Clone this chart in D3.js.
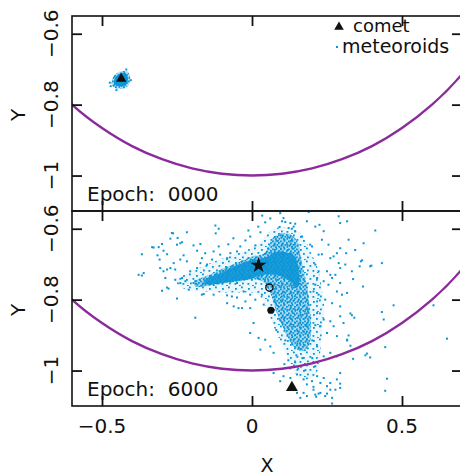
<!DOCTYPE html>
<html>
<head>
<meta charset="utf-8">
<script src="https://cdn.jsdelivr.net/npm/d3@7"></script>
<style>
body{margin:0;background:#fff;}
text{font-family:"DejaVu Sans",sans-serif;fill:#111;}
</style>
</head>
<body>
<script>
//epochs shown in the two panels
var epochs = ["0000", "6000"];

//axis ticks
var xTicks = [-0.5, 0, 0.5];
var yTicks = [-0.6, -0.8, -1];

//earth orbit
var orbit = [[-0.7,-0.714],[-0.6,-0.8],[-0.5,-0.866],[-0.4,-0.917],[-0.3,-0.954],[-0.2,-0.98],[-0.1,-0.995],
    [0,-1],[0.1,-0.995],[0.2,-0.98],[0.3,-0.954],[0.4,-0.917],[0.5,-0.866],[0.6,-0.8],[0.7,-0.714],[0.8,-0.6]];

//comet position at each epoch
var comet = [[-0.436,-0.727],[0.133,-1.048]];

//other markers in epoch 6000
var starMark = [0.022,-0.703],
    openMark = [0.058,-0.766],
    dotMark = [0.063,-0.830];

//epoch 0000 meteoroid cloud
var cloud0 = [[-0.468,-0.743],[-0.464,-0.724],[-0.45,-0.711],[-0.432,-0.705],[-0.414,-0.708],[-0.406,-0.724],
    [-0.41,-0.743],[-0.425,-0.754],[-0.446,-0.755],[-0.461,-0.751]];
var stray0 = [[-0.471,-0.748],[-0.404,-0.731],[-0.419,-0.701],[-0.474,-0.738],[-0.452,-0.759]];

//epoch 6000 meteoroid densities (outlines) and scattered grains
var haloOutline = [[-0.256,-0.746],[-0.206,-0.723],[-0.156,-0.703],[-0.099,-0.684],[-0.046,-0.667],[0.001,-0.653],
    [0.034,-0.633],[0.054,-0.612],[0.081,-0.598],[0.128,-0.600],[0.161,-0.612],[0.181,-0.639],[0.201,-0.675],
    [0.221,-0.717],[0.234,-0.774],[0.241,-0.83],[0.234,-0.886],[0.228,-0.943],[0.221,-0.994],[0.201,-1.022],
    [0.161,-1.022],[0.134,-0.994],[0.11,-0.948],[0.085,-0.901],[0.062,-0.853],[0.045,-0.816],[0.028,-0.791],
    [0.001,-0.78],[-0.039,-0.78],[-0.089,-0.78],[-0.156,-0.777],[-0.222,-0.771]];
var midOutline = [[-0.189,-0.748],[-0.139,-0.729],[-0.089,-0.709],[-0.039,-0.692],[0.001,-0.678],[0.034,-0.672],
    [0.054,-0.655],[0.068,-0.627],[0.101,-0.613],[0.134,-0.619],[0.154,-0.641],[0.161,-0.675],[0.171,-0.712],
    [0.183,-0.76],[0.192,-0.816],[0.197,-0.872],[0.19,-0.929],[0.168,-0.945],[0.138,-0.932],[0.11,-0.89],
    [0.088,-0.85],[0.072,-0.81],[0.056,-0.772],[0.034,-0.748],[0.001,-0.743],[-0.039,-0.748],[-0.089,-0.754],
    [-0.139,-0.76],[-0.189,-0.763]];
var coreOutline = [[-0.156,-0.745],[-0.099,-0.723],[-0.046,-0.701],[0.001,-0.688],[0.034,-0.684],[0.06,-0.675],
    [0.085,-0.664],[0.112,-0.666],[0.138,-0.674],[0.15,-0.69],[0.156,-0.72],[0.158,-0.752],[0.148,-0.768],
    [0.132,-0.752],[0.108,-0.738],[0.068,-0.729],[0.028,-0.732],[-0.006,-0.742],[-0.046,-0.747],
    [-0.099,-0.753],[-0.156,-0.756]];
var grains = [
    [-0.122,-0.591],[-0.111,-0.6],[-0.121,-0.613],[-0.217,-0.61],[-0.263,-0.613],[-0.272,-0.628],[-0.248,-0.626],
    [-0.239,-0.641],[-0.25,-0.645],[-0.3,-0.643],[-0.311,-0.652],[-0.328,-0.653],[-0.295,-0.662],[-0.283,-0.672],
    [-0.315,-0.675],[-0.367,-0.672],[-0.308,-0.687],[-0.228,-0.675],[-0.195,-0.647],[-0.172,-0.643],[-0.183,-0.662],
    [-0.156,-0.669],[-0.128,-0.664],[-0.106,-0.673],[-0.111,-0.65],[-0.072,-0.669],[-0.05,-0.664],[-0.083,-0.683],
    [-0.239,-0.687],[-0.217,-0.692],[-0.261,-0.697],[-0.272,-0.711],[-0.283,-0.715],[-0.295,-0.72],[-0.306,-0.711],
    [-0.256,-0.715],[-0.361,-0.725],[-0.378,-0.73],[-0.367,-0.732],[-0.289,-0.739],[-0.256,-0.744],[-0.233,-0.739],
    [-0.239,-0.753],[-0.222,-0.748],[-0.195,-0.753],[-0.206,-0.72],[-0.183,-0.711],[-0.172,-0.697],[-0.15,-0.701],
    [-0.167,-0.683],[-0.133,-0.687],[-0.3,-0.775],[-0.278,-0.769],[-0.211,-0.772],[-0.25,-0.797],[-0.161,-0.784],
    [-0.128,-0.786],[-0.189,-0.748],[-0.15,-0.753],[-0.083,-0.788],[-0.067,-0.791],[-0.05,-0.794],[-0.083,-0.81],
    [-0.061,-0.819],[-0.05,-0.753],[-0.072,-0.748],[-0.233,-0.638],[-0.189,-0.851],[-0.167,-0.786],[-0.283,-0.766],
    [-0.045,-0.824],[-0.333,-0.652],[-0.267,-0.612],
    [0.094,-0.556],[0.105,-0.57],[0.1,-0.579],[0.128,-0.584],[0.139,-0.594],[0.122,-0.598],[0.183,-0.579],
    [0.211,-0.594],[0.225,-0.589],[0.289,-0.565],[0.294,-0.584],[0.317,-0.579],[0.167,-0.622],[0.194,-0.645],
    [0.2,-0.65],[0.233,-0.631],[0.255,-0.645],[0.222,-0.673],[0.233,-0.672],[0.261,-0.683],[0.272,-0.678],
    [0.283,-0.669],[0.294,-0.655],[0.314,-0.669],[0.289,-0.697],[0.311,-0.701],[0.294,-0.711],[0.25,-0.72],
    [0.261,-0.73],[0.278,-0.73],[0.267,-0.739],[0.239,-0.748],[0.255,-0.758],[0.294,-0.753],[0.283,-0.777],
    [0.3,-0.786],[0.317,-0.781],[0.244,-0.8],[0.267,-0.81],[0.294,-0.819],[0.217,-0.739],[0.222,-0.72],
    [0.211,-0.701],[0.211,-0.758],[0.205,-0.777],[0.222,-0.786],[0.217,-0.805],[-0.028,-0.777],[-0.006,-0.786],
    [-0.022,-0.805],[0.011,-0.8],[-0.033,-0.824],[-0.006,-0.824],[0.033,-0.786],[0.039,-0.814],
    [0.111,-0.581],[0.092,-0.595],[0.144,-0.586],[0.133,-0.6],[0.144,-0.607],[0.239,-0.607],[0.411,-0.605],
    [0.189,-0.553],[0.322,-0.631],[0.372,-0.641],[0.433,-0.697],[0.394,-0.706],[0.367,-0.689],[0.37,-0.763],
    [0.333,-0.844],[0.341,-0.851],[0.433,-0.835],[0.439,-0.856],[0.444,-0.934],[0.383,-0.952],[0.378,-0.957],
    [0.317,-0.915],[0.322,-0.901],[0.472,-0.816],[0.605,-0.816],[0.65,-0.91],[0.444,-1.057],[0.45,-1.023],
    [0.267,-1.093],[0.25,-1.065],[0.294,-1.037],[0.205,-1.046],[0.222,-1.065],[0.214,-1.074],[0.344,-0.66],
    [0.363,-0.692],[0.359,-0.706],[0.398,-0.704],[0.333,-0.72],[0.337,-0.742],[0.328,-0.839],[0.328,-0.93],
    [0.394,-0.963],[0.337,-0.967],
    [0.005,-0.866],[0.022,-0.908],[-0.006,-0.894],[0.044,-0.913],[0.028,-0.941],[0.061,-0.932],[0.072,-0.95],
    [0.217,-0.838],[0.239,-0.856],[0.228,-0.875],[0.261,-0.861],[0.25,-0.894],[0.272,-0.875],[0.283,-0.903],
    [0.294,-0.847],[0.305,-0.866],[0.317,-0.913],[0.217,-0.932],[0.239,-0.96],[0.261,-0.95],[0.283,-0.96],
    [0.072,-1.007],[0.105,-1.016],[0.094,-1.03],[0.128,-1.021],[0.15,-1.011],[0.172,-1.025],[0.183,-1.039],
    [0.2,-1.03],[0.217,-1.016],[0.228,-1.035],[0.239,-1.021],[0.25,-1.044],[0.261,-1.054],[0.205,-1.054],
    [0.172,-1.063],[0.161,-1.077],[0.183,-1.072],[0.211,-1.068],[0.228,-1.063],[0.244,-1.072],[0.267,-1.077],
    [0.15,-1.063],[0.139,-1.049],[0.261,-1.035],[0.294,-1.007],[0.283,-1.025],[0.278,-1.054],[0.294,-1.049],
    [0.121,-0.971],[0.144,-0.977],[0.168,-0.965],[0.188,-0.982],[0.201,-0.965],[0.154,-0.994],[0.178,-0.999],
    [0.211,-0.988],[0.128,-0.994],[0.108,-0.982],[0.094,-0.858],[0.111,-0.915],[0.081,-0.886],[0.201,-0.915],
    [0.211,-0.872],[0.148,-0.957],
    [-0.022,-0.633],[-0.006,-0.622],[0.011,-0.647],[-0.039,-0.65],[0.028,-0.61],[0.021,-0.594],[0.044,-0.582],
    [0.061,-0.571],[0.034,-0.563],[-0.012,-0.605],[-0.062,-0.627],[-0.079,-0.644]
];

//chart frame
var width = 460,
    height = 476,
    left = 72,
    right = 462,
    panelTop = [16, 211],
    panelH = 195;

var svg = d3.select("body")
    .append("svg")
    .attr("width", width)
    .attr("height", height);

var x = d3.scaleLinear()
    .domain([-0.6, 0.7])
    .range([left, right]);

var fmt = d3.format("~g");
var blue = "#0c95d6",
    purple = "#8b2b9b";

//speckle textures for the dense parts of the cloud
var defs = svg.append("defs");
function speckle(id, size, tint, spots){
    var p = defs.append("pattern")
        .attr("id", id)
        .attr("patternUnits", "userSpaceOnUse")
        .attr("width", size)
        .attr("height", size);
    p.append("rect")
        .attr("width", size)
        .attr("height", size)
        .attr("fill", blue)
        .attr("fill-opacity", tint);
    p.selectAll("rect.s")
        .data(spots)
        .enter()
        .append("rect")
        .attr("class", "s")
        .attr("x", function(d){ return d[0]; })
        .attr("y", function(d){ return d[1]; })
        .attr("width", 1.8)
        .attr("height", 1.8)
        .attr("fill", blue);
}
speckle("halo", 13, 0.08, [[1,2],[7,0.5],[10.5,5],[4,6],[8,9.5],[0.5,10],[5,12]]);
speckle("mid", 8, 0.3, [[0,0.5],[3.5,0],[6,2],[2,2.5],[4.5,4],[0.5,5],[3,6.2],[6.5,6],[1.5,3.8]]);

epochs.forEach(function(epoch, i){
    var top = panelTop[i],
        bottom = top + panelH;

    var y = d3.scaleLinear()
        .domain([-1.1, -0.55])
        .range([bottom, top]);

    var clipId = "clip" + i;
    svg.append("clipPath")
        .attr("id", clipId)
        .append("rect")
        .attr("x", left)
        .attr("y", top)
        .attr("width", right - left)
        .attr("height", panelH);

    var g = svg.append("g").attr("clip-path", "url(#" + clipId + ")");

    var outline = d3.line()
        .x(function(d){ return x(d[0]); })
        .y(function(d){ return y(d[1]); })
        .curve(d3.curveCatmullRomClosed);

    var grainList;
    if (i == 0) {
        g.append("path")
            .datum(cloud0)
            .attr("d", outline)
            .attr("fill", "url(#mid)");
        g.append("path")
            .datum(cloud0)
            .attr("d", outline)
            .attr("fill", blue)
            .attr("transform", "translate(" + x(comet[0][0]) + "," + y(comet[0][1]) + ") scale(0.75) translate(" + (-x(comet[0][0])) + "," + (-y(comet[0][1])) + ")");
        grainList = stray0;
    } else {
        g.append("path")
            .datum(haloOutline)
            .attr("d", outline)
            .attr("fill", "url(#halo)");
        g.append("path")
            .datum(midOutline)
            .attr("d", outline)
            .attr("fill", "url(#mid)");
        g.append("path")
            .datum(coreOutline)
            .attr("d", outline)
            .attr("fill", blue)
            .attr("fill-opacity", 0.9);
        grainList = grains;
    }

    //single grains
    g.selectAll(".grain")
        .data(grainList)
        .enter()
        .append("rect")
        .attr("class", "grain")
        .attr("x", function(d){ return x(d[0]) - 1; })
        .attr("y", function(d){ return y(d[1]) - 1; })
        .attr("width", 2)
        .attr("height", 2)
        .attr("fill", blue);

    //earth orbit
    g.append("path")
        .datum(orbit)
        .attr("d", d3.line()
            .x(function(d){ return x(d[0]); })
            .y(function(d){ return y(d[1]); })
            .curve(d3.curveNatural))
        .attr("fill", "none")
        .attr("stroke", purple)
        .attr("stroke-width", 2.4);

    //markers
    if (i == 1) {
        g.append("path")
            .attr("d", d3.symbol().type(d3.symbolStar).size(80)())
            .attr("transform", "translate(" + x(starMark[0]) + "," + y(starMark[1]) + ")")
            .attr("fill", "#111");
        g.append("circle")
            .attr("cx", x(openMark[0]))
            .attr("cy", y(openMark[1]))
            .attr("r", 3.6)
            .attr("fill", "none")
            .attr("stroke", "#111")
            .attr("stroke-width", 1.4);
        g.append("circle")
            .attr("cx", x(dotMark[0]))
            .attr("cy", y(dotMark[1]))
            .attr("r", 3.6)
            .attr("fill", "#111");
    }
    g.append("path")
        .attr("d", d3.symbol().type(d3.symbolTriangle).size(i == 0 ? 48 : 62)())
        .attr("transform", "translate(" + x(comet[i][0]) + "," + y(comet[i][1]) + ")")
        .attr("fill", "#111");

    //inward ticks on all four sides
    svg.append("g")
        .attr("transform", "translate(0," + top + ")")
        .call(d3.axisTop(x).tickValues(xTicks).tickSize(-10).tickFormat(""));
    svg.append("g")
        .attr("transform", "translate(0," + bottom + ")")
        .call(d3.axisBottom(x).tickValues(xTicks).tickSize(-10).tickFormat(""));
    svg.append("g")
        .attr("transform", "translate(" + left + ",0)")
        .call(d3.axisLeft(y).tickValues(yTicks).tickSize(-10).tickFormat(""));
    svg.append("g")
        .attr("transform", "translate(" + right + ",0)")
        .call(d3.axisRight(y).tickValues(yTicks).tickSize(-10).tickFormat(""));

    //rotated y labels
    svg.selectAll(".ylab" + i)
        .data(yTicks)
        .enter()
        .append("text")
        .attr("transform", function(d){ return "translate(58," + y(d) + ") rotate(-90)"; })
        .attr("text-anchor", "middle")
        .attr("font-size", 20)
        .text(fmt);

    svg.append("text")
        .attr("transform", "translate(25," + (top + 99) + ") rotate(-90)")
        .attr("text-anchor", "middle")
        .attr("font-size", 20)
        .text("Y");

    svg.append("text")
        .attr("x", 87)
        .attr("y", bottom - 10)
        .attr("font-size", 20)
        .attr("xml:space", "preserve")
        .text("Epoch:  " + epoch);

    //panel border
    svg.append("rect")
        .attr("x", left)
        .attr("y", top)
        .attr("width", right - left)
        .attr("height", panelH)
        .attr("fill", "none")
        .attr("stroke", "#111")
        .attr("stroke-width", 1.6);
});

svg.selectAll(".domain").remove();
svg.selectAll(".tick line")
    .attr("stroke", "#111")
    .attr("stroke-width", 1.8);

//x labels under the lower panel
svg.selectAll(".xlab")
    .data(xTicks)
    .enter()
    .append("text")
    .attr("x", function(d){ return x(d); })
    .attr("y", 433)
    .attr("text-anchor", "middle")
    .attr("font-size", 20)
    .text(fmt);

svg.append("text")
    .attr("x", (left + right) / 2)
    .attr("y", 472)
    .attr("text-anchor", "middle")
    .attr("font-size", 19)
    .text("X");

//legend
var legend = svg.append("g");
legend.append("path")
    .attr("d", d3.symbol().type(d3.symbolTriangle).size(40)())
    .attr("transform", "translate(339,27)")
    .attr("fill", "#111");
legend.append("text")
    .attr("x", 353)
    .attr("y", 31.5)
    .attr("font-size", 18)
    .text("comet");
legend.append("rect")
    .attr("x", 336)
    .attr("y", 46)
    .attr("width", 2)
    .attr("height", 2)
    .attr("fill", blue);
legend.append("text")
    .attr("x", 342)
    .attr("y", 53)
    .attr("font-size", 19)
    .text("meteoroids");
</script>
</body>
</html>
